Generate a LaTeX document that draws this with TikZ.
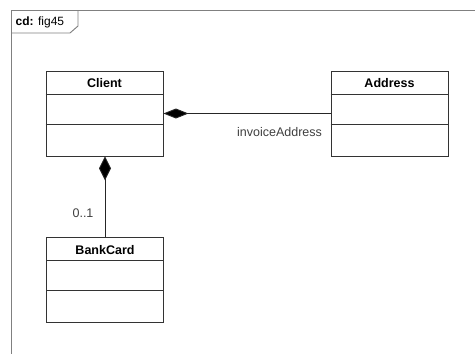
\documentclass[tikz,border=0pt]{standalone}
\usepackage{fontspec}
\setmainfont{Liberation Sans}
\usetikzlibrary{arrows.meta,calc}

\tikzset{
  classbox/.style={draw=black!80, line width=0.9pt, minimum width=117pt, minimum height=85pt, inner sep=0pt},
  divider/.style={draw=black!80, line width=0.9pt},
  classname/.style={font=\fontsize{12.5}{14}\selectfont\bfseries, inner sep=0pt},
  lbl/.style={font=\fontsize{12.5}{14}\selectfont, text=black!75, inner sep=0pt},
  frameline/.style={draw=black!50, line width=0.9pt},
  composition/.style 2 args={draw=black!85, line width=0.9pt,
    -{Diamond[length=#1, width=#2, fill=black]}},
}

% class box with name compartment and two empty compartments
\newcommand\umlclassbox[4]{%
  \node[classbox] (#1) at (#2) {};
  \draw[divider] ([yshift=-#3]#1.north west) -- ([yshift=-#3]#1.north east);
  \draw[divider] ([yshift=-#3-30pt]#1.north west) -- ([yshift=-#3-30pt]#1.north east);
  \node[classname] at ([yshift=-12.5pt]#1.north) {#4};
}

\begin{document}
\begin{tikzpicture}[x=1pt, y=-1pt]
  \useasboundingbox (0,0) rectangle (475,354);
  \fill[white] (0,0) rectangle (475,354);

  % diagram frame and its name tab
  \draw[frameline] (11,360) -- (11,10) -- (480,10);
  \draw[frameline] (11,33) -- (70,33) -- (78,26) -- (78,10);
  \node[anchor=west, inner sep=0pt, font=\fontsize{12}{14}\selectfont] (tab) at (15.5,22) {\textbf{cd:} fig45};

  % classes
  \umlclassbox{client}{104.5,113.5}{24pt}{Client}
  \umlclassbox{address}{389.5,113.5}{23.5pt}{Address}
  \umlclassbox{bankcard}{105,280}{23.5pt}{BankCard}

  % compositions
  \draw[composition={25pt}{10pt}] (address.west) -- (client.east);
  \draw[composition={24pt}{12pt}] (bankcard.north) -- (client.south -| bankcard.north);

  % association end labels
  \node[lbl] (role) at (279.5,132) {invoiceAddress};
  \node[lbl] (mult) at (83,213) {0..1};
\end{tikzpicture}
\end{document}
